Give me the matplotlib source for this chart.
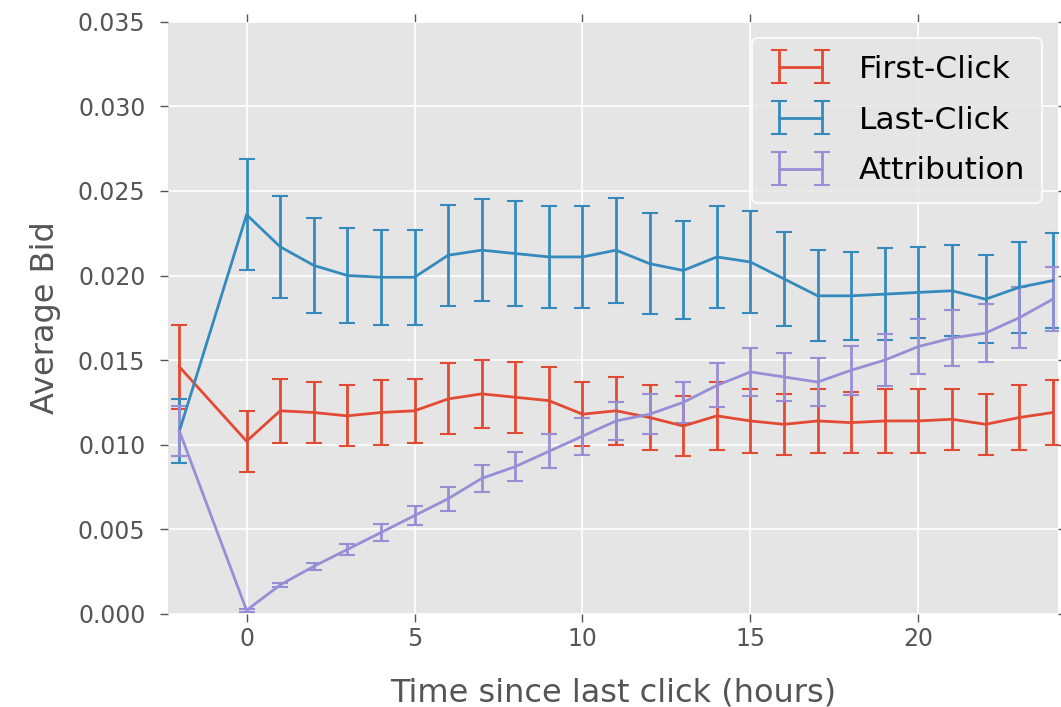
import numpy as np
import matplotlib.pyplot as plt
from matplotlib.container import ErrorbarContainer
from matplotlib.legend_handler import HandlerErrorbar

hours = [-2] + list(range(0, 25))

first_click = [0.0146, 0.0102, 0.0120, 0.0119, 0.0117, 0.0119, 0.0120, 0.0127, 0.0130,
               0.0128, 0.0126, 0.0118, 0.0120, 0.0116, 0.0111, 0.0117, 0.0114, 0.0112,
               0.0114, 0.0113, 0.0114, 0.0114, 0.0115, 0.0112, 0.0116, 0.0119]
first_click_err = [0.0025, 0.0018, 0.0019, 0.0018, 0.0018, 0.0019, 0.0019, 0.0021, 0.0020,
                   0.0021, 0.0020, 0.0019, 0.0020, 0.0019, 0.0018, 0.0020, 0.0019, 0.0018,
                   0.0019, 0.0018, 0.0019, 0.0019, 0.0018, 0.0018, 0.0019, 0.0019]

last_click = [0.0108, 0.0236, 0.0217, 0.0206, 0.0200, 0.0199, 0.0199, 0.0212, 0.0215,
              0.0213, 0.0211, 0.0211, 0.0215, 0.0207, 0.0203, 0.0211, 0.0208, 0.0198,
              0.0188, 0.0188, 0.0189, 0.0190, 0.0191, 0.0186, 0.0193, 0.0197]
last_click_err = [0.0019, 0.0033, 0.0030, 0.0028, 0.0028, 0.0028, 0.0028, 0.0030, 0.0030,
                  0.0031, 0.0030, 0.0030, 0.0031, 0.0030, 0.0029, 0.0030, 0.0030, 0.0028,
                  0.0027, 0.0026, 0.0027, 0.0027, 0.0027, 0.0026, 0.0027, 0.0028]

attribution = [0.0108, 0.0002, 0.0017, 0.0028, 0.0038, 0.0048, 0.0058, 0.0068, 0.0080,
               0.0087, 0.0096, 0.0105, 0.0114, 0.0118, 0.0125, 0.0135, 0.0143, 0.0140,
               0.0137, 0.0144, 0.0150, 0.0158, 0.0163, 0.0166, 0.0175, 0.0186]
attribution_err = [0.0015, 0.0001, 0.0001, 0.0002, 0.00035, 0.0005, 0.00056, 0.0007, 0.0008,
                   0.00084, 0.001, 0.0011, 0.0011, 0.0012, 0.0012, 0.0013, 0.0014, 0.0014,
                   0.0014, 0.00145, 0.00155, 0.0016, 0.00165, 0.0017, 0.0018, 0.0019]

plt.style.use('ggplot')
plt.rcParams['font.family'] = ['DejaVu Sans']

fig = plt.figure(figsize=(10.61, 7.07), dpi=100)
ax = fig.add_axes([0.158, 0.132, 0.839, 0.837])

series = [
    ('First-Click', first_click, first_click_err, '#E24A33'),
    ('Last-Click', last_click, last_click_err, '#348ABD'),
    ('Attribution', attribution, attribution_err, '#988ED5'),
]
for name, vals, errs, col in series:
    ax.errorbar(hours, vals, yerr=errs, color=col, lw=2, elinewidth=2,
                capsize=5.5, capthick=1.5, label=name)

ax.set_xlim(-2.35, 24.15)
ax.set_ylim(0, 0.035)
ax.set_xticks([0, 5, 10, 15, 20])
ax.set_yticks(np.arange(0, 0.0351, 0.005))
ax.tick_params(axis='both', which='both', direction='out', top=True, right=True,
               length=6, width=1, color='#555555', labelsize=17, labelcolor='#555555')
ax.tick_params(axis='y', pad=10)
for sp in ax.spines.values():
    sp.set_visible(False)
ax.grid(True, color='white', lw=1.2)

ax.set_xlabel('Time since last click (hours)', fontsize=23, color='#555555', labelpad=19)
ax.set_ylabel('Average Bid', fontsize=23, color='#555555', labelpad=12)

leg = ax.legend(loc='upper right', numpoints=2, fontsize=22.5, frameon=True,
                handlelength=2.0, borderaxespad=0.5, labelspacing=0.7,
                handletextpad=0.86, borderpad=0.55,
                handler_map={ErrorbarContainer: HandlerErrorbar(yerr_size=0.53)})
leg.get_frame().set_facecolor('#E5E5E5')
leg.get_frame().set_edgecolor('white')
leg.get_frame().set_linewidth(1.5)
for t in leg.get_texts():
    t.set_color('black')

fig.savefig('out.png', dpi=100)
